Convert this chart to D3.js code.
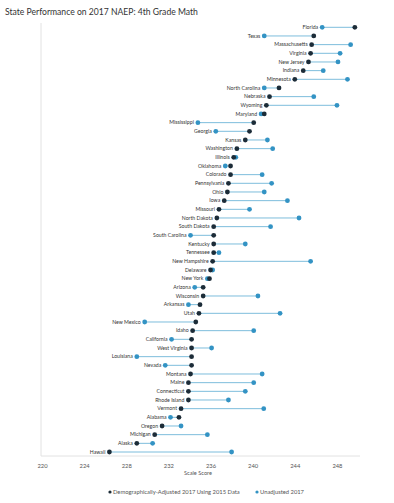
<!DOCTYPE html>
<html>
<head>
<meta charset="utf-8">
<script src="https://cdn.jsdelivr.net/npm/d3@7"></script>
<style>
  body { margin: 0; background: #fff; }
  text { font-family: Lato, "Open Sans", sans-serif; }
</style>
</head>
<body>
<div id="chart"></div>
<script>
// States, sorted by adjusted score (top to bottom)
const states = [
  'Florida', 'Texas', 'Massachusetts', 'Virginia', 'New Jersey', 'Indiana', 'Minnesota',
  'North Carolina', 'Nebraska', 'Wyoming', 'Maryland', 'Mississippi', 'Georgia', 'Kansas',
  'Washington', 'Illinois', 'Oklahoma', 'Colorado', 'Pennsylvania', 'Ohio', 'Iowa', 'Missouri',
  'North Dakota', 'South Dakota', 'South Carolina', 'Kentucky', 'Tennessee', 'New Hampshire',
  'Delaware', 'New York', 'Arizona', 'Wisconsin', 'Arkansas', 'Utah', 'New Mexico', 'Idaho',
  'California', 'West Virginia', 'Louisiana', 'Nevada', 'Montana', 'Maine', 'Connecticut',
  'Rhode Island', 'Vermont', 'Alabama', 'Oregon', 'Michigan', 'Alaska', 'Hawaii'
];

// Demographically-adjusted 2017 using 2015 data
const adjusted = [
  249.7, 245.8, 245.6, 245.5, 245.3, 244.8, 244.0,
  242.5, 241.6, 241.3, 241.1, 240.1, 239.7, 239.3,
  238.5, 238.2, 237.9, 237.9, 237.7, 237.6, 237.3, 236.8,
  236.6, 236.3, 236.3, 236.3, 236.3, 236.2,
  236.0, 235.9, 235.3, 235.3, 235.0, 234.9, 234.6, 234.3,
  234.2, 234.2, 234.2, 234.2, 234.1, 233.9, 233.9,
  233.9, 233.2, 233.0, 231.4, 230.7, 229.0, 226.4
];

// Unadjusted 2017
const unadjusted = [
  246.6, 241.1, 249.3, 248.3, 248.1, 246.7, 249.0,
  241.1, 245.8, 248.0, 240.8, 234.8, 236.5, 241.4,
  241.9, 238.4, 237.4, 240.9, 241.8, 241.1, 243.3, 239.7,
  244.4, 241.7, 234.1, 239.3, 236.8, 245.5,
  236.2, 235.7, 234.5, 240.5, 233.9, 242.6, 229.75, 240.1,
  232.3, 236.1, 229.0, 231.7, 240.9, 240.1, 239.3,
  237.7, 241.05, 232.2, 233.2, 235.7, 230.5, 238.0
];

const xTicks = [220, 224, 228, 232, 236, 240, 244, 248];

const width = 394, height = 503;
const darkColor = '#1c2c38';
const lightColor = '#3393c4';
const lineColor = '#7dbddc';
const axisColor = '#e2e2e2';

const svg = d3.select('#chart')
  .append('svg')
  .attr('width', width)
  .attr('height', height);

svg.append('text')
  .attr('x', 5)
  .attr('y', 15)
  .attr('font-size', 8.6)
  .attr('fill', '#333')
  .text('State Performance on 2017 NAEP: 4th Grade Math');

const x = d3.scaleLinear().domain([220, 250]).range([42, 358]);
const y = d3.scalePoint().domain(states).range([27.3, 452]);

// axis lines
svg.append('line')
  .attr('x1', 41).attr('x2', 41)
  .attr('y1', 23).attr('y2', 456)
  .attr('stroke', axisColor);

const xAxis = svg.append('g')
  .attr('transform', 'translate(0,456)')
  .call(d3.axisBottom(x).tickValues(xTicks).tickSize(0).tickPadding(8));
xAxis.select('.domain').attr('stroke', axisColor).attr('d', 'M41,0H360');
xAxis.selectAll('text')
  .attr('font-family', 'Lato, sans-serif')
  .attr('font-size', 5.8)
  .attr('fill', '#555');

svg.append('text')
  .attr('x', 198)
  .attr('y', 475)
  .attr('text-anchor', 'middle')
  .attr('font-size', 5.6)
  .attr('fill', '#555')
  .text('Scale Score');

const rows = states.map((s, i) => ({ state: s, adj: adjusted[i], unadj: unadjusted[i] }));

const row = svg.append('g')
  .selectAll('g')
  .data(rows)
  .join('g')
  .attr('transform', d => `translate(0,${y(d.state)})`);

row.append('line')
  .attr('x1', d => x(Math.min(d.adj, d.unadj)))
  .attr('x2', d => x(Math.max(d.adj, d.unadj)))
  .attr('stroke', lineColor)
  .attr('stroke-width', 1);

row.append('circle')
  .attr('cx', d => x(d.unadj))
  .attr('r', 2.4)
  .attr('fill', lightColor);

row.append('circle')
  .attr('cx', d => x(d.adj))
  .attr('r', 2.4)
  .attr('fill', darkColor);

row.append('text')
  .attr('x', d => x(Math.min(d.adj, d.unadj)) - 4)
  .attr('dy', '0.35em')
  .attr('text-anchor', 'end')
  .attr('font-size', 5.2)
  .attr('fill', '#333')
  .text(d => d.state);

// legend
const legend = [
  { label: 'Demographically-Adjusted 2017 Using 2015 Data', color: darkColor, x: 110 },
  { label: 'Unadjusted 2017', color: lightColor, x: 257 }
];
const lg = svg.append('g')
  .selectAll('g')
  .data(legend)
  .join('g')
  .attr('transform', d => `translate(${d.x},492)`);
lg.append('circle').attr('r', 1.6).attr('fill', d => d.color);
lg.append('text')
  .attr('x', 3)
  .attr('dy', '0.35em')
  .attr('font-size', 5.8)
  .attr('fill', '#555')
  .text(d => d.label);
</script>
</body>
</html>
